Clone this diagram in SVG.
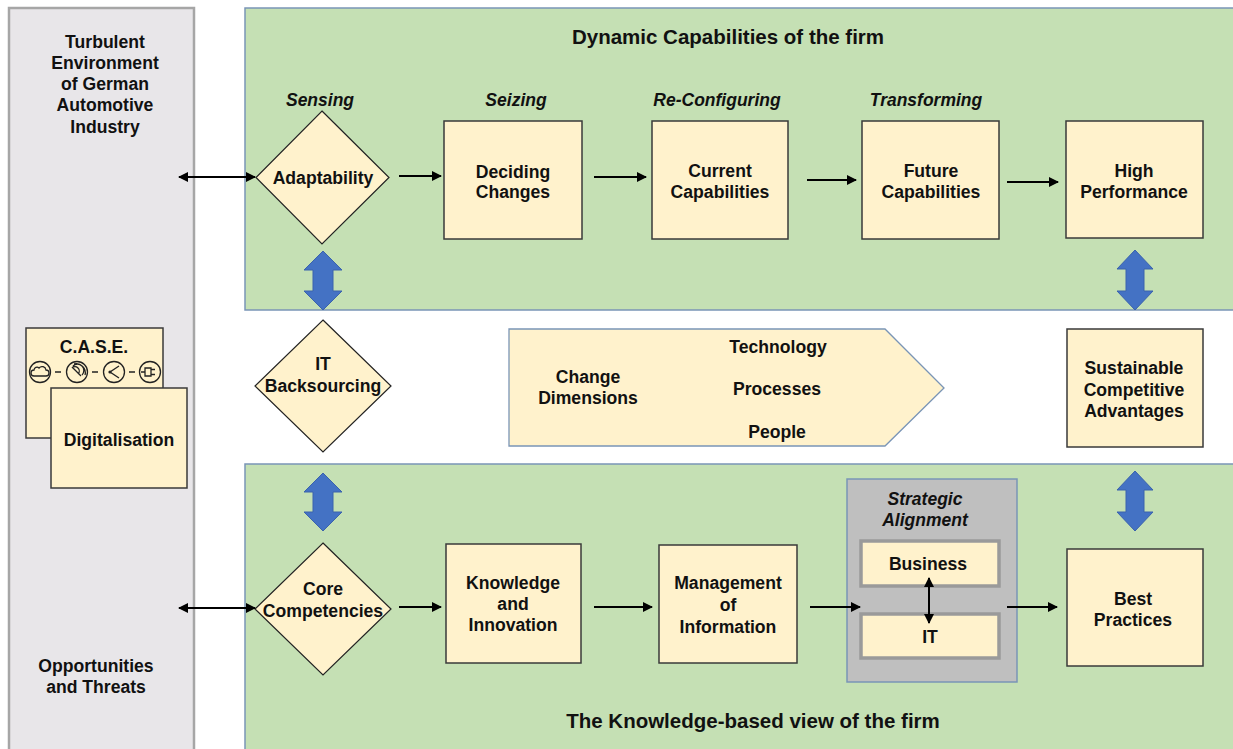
<svg xmlns="http://www.w3.org/2000/svg" width="1233" height="749" viewBox="0 0 1233 749">
<style>
text{font-family:"Liberation Sans",Arial,sans-serif;font-weight:bold;fill:#111;text-anchor:middle}
.t{font-size:17.6px}
.h{font-size:20.5px}
.p{font-size:17.5px;font-style:italic}
.box{fill:#fff2cc;stroke:#3a3a3a;stroke-width:1.5}
.dia{fill:#fff2cc;stroke:#222;stroke-width:1.2}
.panel{fill:#c5e0b4;stroke:#7a95b6;stroke-width:1.5}
.inner{fill:#fff2cc;stroke:#9a9a9a;stroke-width:3.5}
.con{stroke:#000;stroke-width:2;fill:none}
.blue{fill:#4472c4;stroke:#3a62ad;stroke-width:1}
.ic{fill:none;stroke:#222;stroke-width:1.3}
</style>
<defs>
<marker id="ah" viewBox="0 0 10 10" refX="9" refY="5" markerWidth="5" markerHeight="5" orient="auto-start-reverse" markerUnits="strokeWidth">
<path d="M0,0 L10,5 L0,10 z" fill="#000"/>
</marker>
</defs>
<rect width="1233" height="749" fill="#fff"/>

<g id="environment">
<rect x="9" y="8" width="185" height="760" fill="#e8e6e9" stroke="#a6a6a6" stroke-width="2.5"/>
<text class="t" x="105" y="48">Turbulent</text>
<text class="t" x="105" y="69">Environment</text>
<text class="t" x="105" y="90">of German</text>
<text class="t" x="105" y="111">Automotive</text>
<text class="t" x="105" y="133">Industry</text>
<text class="t" x="96" y="672">Opportunities</text>
<text class="t" x="96" y="693">and Threats</text>
</g>

<g id="case">
<rect x="26" y="328" width="137" height="110" class="box"/>
<text class="t" x="94" y="353">C.A.S.E.</text>
<circle cx="40" cy="372" r="10.5" class="ic"/>
<path d="M34,376 h12 a3,3 0 0 0 0,-6 a4,4 0 0 0 -7,-2 a3,3 0 0 0 -5,2 a2,2 0 0 0 0,6 z" class="ic" stroke-width="1.1"/>
<line x1="55" y1="372" x2="61" y2="372" stroke="#222" stroke-width="1.5"/>
<circle cx="77" cy="372" r="10.5" class="ic"/>
<path d="M72,367 l9,9 M74,364 a9,9 0 0 1 11,11 M73,366 a6,6 0 0 1 9,9 M72,368 a3,3 0 0 1 6,6" class="ic" stroke-width="1"/>
<line x1="92" y1="372" x2="98" y2="372" stroke="#222" stroke-width="1.5"/>
<circle cx="114" cy="372" r="10.5" class="ic"/>
<path d="M119,366 L110,372 L119,378" class="ic" stroke-width="1.6"/>
<circle cx="110" cy="372" r="1.6" fill="#222"/>
<line x1="129" y1="372" x2="135" y2="372" stroke="#222" stroke-width="1.5"/>
<circle cx="150" cy="372" r="10.5" class="ic"/>
<path d="M141,372 h4 M145,368 h6 v8 h-6 z M151,369.5 h4 M151,374.5 h4" class="ic" stroke-width="1.4"/>
</g>
<g id="digitalisation">
<rect x="51" y="388" width="136" height="100" class="box"/>
<text class="t" x="119" y="446">Digitalisation</text>
</g>

<g id="dynamic-capabilities">
<rect x="245" y="8" width="1000" height="302" class="panel"/>
<text class="h" x="728" y="44">Dynamic Capabilities of the firm</text>
<text class="p" x="320" y="106">Sensing</text>
<text class="p" x="516" y="106">Seizing</text>
<text class="p" x="717" y="106">Re-Configuring</text>
<text class="p" x="926" y="106">Transforming</text>
</g>

<g id="knowledge-view">
<rect x="245" y="464" width="1000" height="300" class="panel"/>
<text class="h" x="753" y="728">The Knowledge-based view of the firm</text>
</g>

<g id="adaptability">
<polygon points="322,111 389,177.5 322,244 256,177.5" class="dia"/>
<text class="t" x="323" y="184">Adaptability</text>
</g>
<g id="deciding-changes">
<rect x="444" y="121" width="138" height="118" class="box"/>
<text class="t" x="513" y="178">Deciding</text>
<text class="t" x="513" y="198">Changes</text>
</g>
<g id="current-capabilities">
<rect x="652" y="121" width="136" height="118" class="box"/>
<text class="t" x="720" y="177">Current</text>
<text class="t" x="720" y="198">Capabilities</text>
</g>
<g id="future-capabilities">
<rect x="862" y="121" width="137" height="118" class="box"/>
<text class="t" x="931" y="177">Future</text>
<text class="t" x="931" y="198">Capabilities</text>
</g>
<g id="high-performance">
<rect x="1066" y="121" width="137" height="117" class="box"/>
<text class="t" x="1134" y="177">High</text>
<text class="t" x="1134" y="198">Performance</text>
</g>

<g id="it-backsourcing">
<polygon points="323,320 391,386 323,452 255,386" class="dia"/>
<text class="t" x="323" y="370">IT</text>
<text class="t" x="323" y="392">Backsourcing</text>
</g>
<g id="change-dimensions">
<polygon points="509,329 885,329 944,388 885,446 509,446" fill="#fff2cc" stroke="#7a95b6" stroke-width="1.3"/>
<text class="t" x="588" y="383">Change</text>
<text class="t" x="588" y="404">Dimensions</text>
<text class="t" x="778" y="353">Technology</text>
<text class="t" x="777" y="395">Processes</text>
<text class="t" x="777" y="438">People</text>
</g>
<g id="sustainable-advantages">
<rect x="1067" y="329" width="136" height="118" class="box"/>
<text class="t" x="1134" y="374">Sustainable</text>
<text class="t" x="1134" y="396">Competitive</text>
<text class="t" x="1134" y="417">Advantages</text>
</g>

<g id="core-competencies">
<polygon points="323,543 391,609 323,675 255,609" class="dia"/>
<text class="t" x="323" y="595">Core</text>
<text class="t" x="323" y="617">Competencies</text>
</g>
<g id="knowledge-innovation">
<rect x="446" y="544" width="135" height="119" class="box"/>
<text class="t" x="513" y="589">Knowledge</text>
<text class="t" x="513" y="610">and</text>
<text class="t" x="513" y="631">Innovation</text>
</g>
<g id="management-information">
<rect x="659" y="545" width="138" height="118" class="box"/>
<text class="t" x="728" y="589">Management</text>
<text class="t" x="728" y="611">of</text>
<text class="t" x="728" y="633">Information</text>
</g>
<g id="strategic-alignment">
<rect x="847" y="479" width="170" height="203" fill="#bfbfbf" stroke="#7a95b6" stroke-width="1.5"/>
<text class="p" x="925" y="505" font-size="17">Strategic</text>
<text class="p" x="925" y="526" font-size="17">Alignment</text>
</g>
<g id="business">
<rect x="861" y="541" width="138" height="45" class="inner"/>
<text class="t" x="928" y="570">Business</text>
</g>
<g id="it">
<rect x="861" y="614" width="138" height="44" class="inner"/>
<text class="t" x="930" y="643">IT</text>
</g>
<g id="best-practices">
<rect x="1067" y="549" width="136" height="117" class="box"/>
<text class="t" x="1133" y="605">Best</text>
<text class="t" x="1133" y="626">Practices</text>
</g>

<g id="connectors">
<line x1="179" y1="177" x2="255" y2="177" class="con" marker-start="url(#ah)" marker-end="url(#ah)"/>
<line x1="399" y1="176" x2="441" y2="176" class="con" marker-end="url(#ah)"/>
<line x1="594" y1="177" x2="646" y2="177" class="con" marker-end="url(#ah)"/>
<line x1="807" y1="180" x2="856" y2="180" class="con" marker-end="url(#ah)"/>
<line x1="1007" y1="182" x2="1058" y2="182" class="con" marker-end="url(#ah)"/>
<line x1="179" y1="608" x2="255" y2="608" class="con" marker-start="url(#ah)" marker-end="url(#ah)"/>
<line x1="399" y1="607" x2="441" y2="607" class="con" marker-end="url(#ah)"/>
<line x1="594" y1="607" x2="652" y2="607" class="con" marker-end="url(#ah)"/>
<line x1="810" y1="607" x2="860" y2="607" class="con" marker-end="url(#ah)"/>
<line x1="1007" y1="607" x2="1057" y2="607" class="con" marker-end="url(#ah)"/>
<line x1="929" y1="578" x2="929" y2="623" class="con" marker-start="url(#ah)" marker-end="url(#ah)"/>
<polygon class="blue" points="323,251 342,270 333,270 333,291 342,291 323,310 304,291 313,291 313,270 304,270"/>
<polygon class="blue" points="323,473 342,492 333,492 333,512 342,512 323,531 304,512 313,512 313,492 304,492"/>
<polygon class="blue" points="1135,250 1153,269 1144,269 1144,291 1153,291 1135,310 1117,291 1126,291 1126,269 1117,269"/>
<polygon class="blue" points="1135,471 1153,490 1144,490 1144,512 1153,512 1135,531 1117,512 1126,512 1126,490 1117,490"/>
</g>
</svg>
